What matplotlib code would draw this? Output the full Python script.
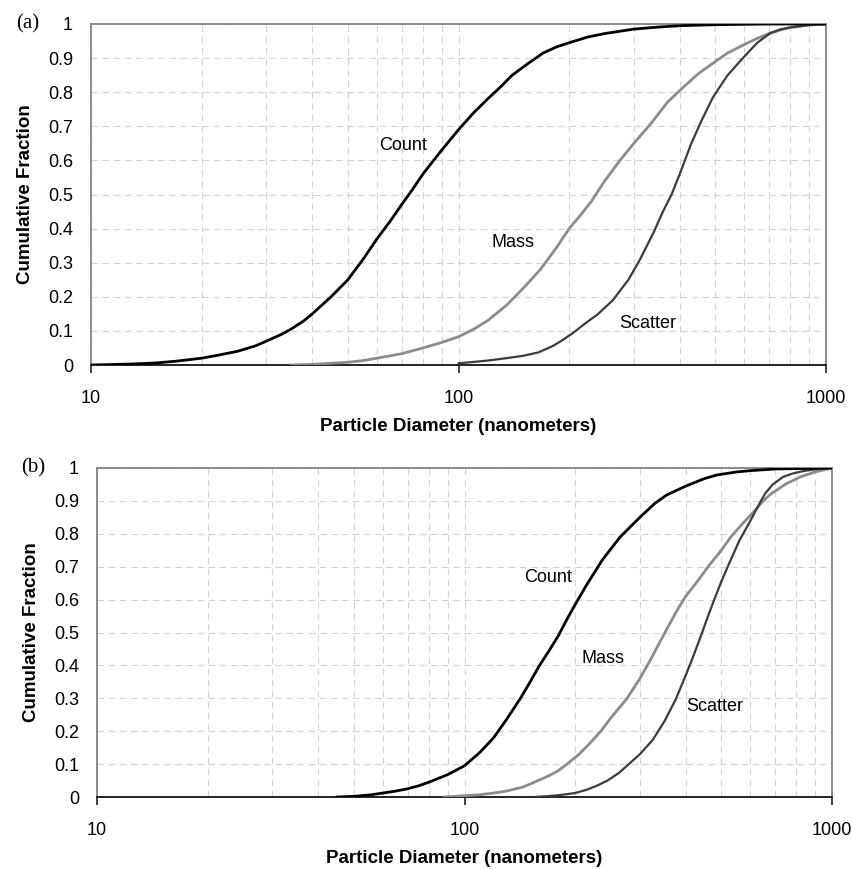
import numpy as np
import matplotlib
matplotlib.use("Agg")
import matplotlib.pyplot as plt
from matplotlib.ticker import FixedLocator, LogLocator, NullFormatter

# --- cumulative size distributions, panel (a) ---
a_count_d = [10, 11, 12, 13, 15, 17, 20, 22, 25, 28, 30, 33, 35, 38, 40, 45, 50,
             55, 60, 65, 70, 75, 80, 90, 100, 110, 120, 130, 140, 155, 170, 185,
             200, 225, 250, 300, 350, 400, 500, 700, 1000]
a_count_f = [0.0, 0.001, 0.002, 0.003, 0.006, 0.011, 0.02, 0.028, 0.04, 0.056,
             0.07, 0.09, 0.105, 0.13, 0.15, 0.2, 0.25, 0.31, 0.37, 0.42, 0.47,
             0.515, 0.56, 0.63, 0.69, 0.74, 0.78, 0.815, 0.85, 0.885, 0.915, 0.933,
             0.945, 0.962, 0.972, 0.985, 0.991, 0.995, 0.998, 1.0, 1.0]

a_mass_d = [35, 40, 45, 50, 55, 60, 70, 80, 90, 100, 110, 120, 135, 150, 167, 185,
            200, 215, 230, 250, 275, 300, 335, 370, 400, 450, 500, 540, 600, 650,
            700, 750, 800, 900, 1000]
a_mass_f = [0.0, 0.002, 0.005, 0.008, 0.013, 0.02, 0.033, 0.05, 0.066, 0.083,
            0.105, 0.13, 0.175, 0.225, 0.28, 0.345, 0.40, 0.44, 0.48, 0.54, 0.60,
            0.65, 0.71, 0.77, 0.805, 0.855, 0.89, 0.915, 0.94, 0.958, 0.972, 0.982,
            0.99, 0.997, 1.0]

a_scat_d = [100, 110, 120, 135, 150, 165, 180, 190, 205, 220, 240, 263, 290, 312,
            340, 360, 380, 400, 430, 460, 493, 540, 594, 650, 705, 750, 800, 900,
            1000]
a_scat_f = [0.005, 0.009, 0.013, 0.02, 0.027, 0.037, 0.055, 0.07, 0.094, 0.12,
            0.15, 0.19, 0.25, 0.31, 0.39, 0.45, 0.50, 0.56, 0.65, 0.72, 0.786,
            0.85, 0.90, 0.945, 0.973, 0.984, 0.99, 0.997, 1.0]

# --- panel (b) ---
b_count_d = [45, 50, 55, 60, 65, 70, 75, 80, 90, 100, 110, 120, 130, 142, 150, 160,
             170, 180, 190, 200, 215, 237, 265, 300, 330, 355, 400, 450, 487, 550,
             600, 700, 1000]
b_count_f = [0.0, 0.002, 0.006, 0.012, 0.018, 0.025, 0.034, 0.045, 0.068, 0.095,
             0.135, 0.18, 0.235, 0.30, 0.345, 0.40, 0.445, 0.49, 0.54, 0.585,
             0.645, 0.72, 0.79, 0.85, 0.893, 0.918, 0.945, 0.968, 0.979, 0.988,
             0.992, 0.997, 1.0]

b_mass_d = [88, 100, 110, 120, 130, 144, 155, 170, 180, 190, 205, 220, 235, 250,
            277, 300, 320, 336, 355, 380, 400, 430, 460, 500, 530, 570, 610, 650,
            680, 750, 820, 900, 1000]
b_mass_f = [0.0, 0.004, 0.007, 0.012, 0.018, 0.03, 0.045, 0.065, 0.08, 0.10, 0.13,
            0.165, 0.2, 0.24, 0.30, 0.36, 0.415, 0.46, 0.51, 0.57, 0.61, 0.655,
            0.70, 0.75, 0.79, 0.83, 0.865, 0.90, 0.92, 0.952, 0.973, 0.988, 1.0]

b_scat_d = [155, 170, 182, 200, 215, 230, 245, 263, 280, 300, 325, 350, 375, 400,
            420, 440, 460, 480, 500, 525, 560, 600, 637, 660, 690, 736, 780, 830,
            900, 1000]
b_scat_f = [0.0, 0.003, 0.006, 0.012, 0.022, 0.035, 0.05, 0.073, 0.1, 0.13, 0.173,
            0.23, 0.295, 0.37, 0.43, 0.49, 0.55, 0.605, 0.655, 0.71, 0.78, 0.84,
            0.895, 0.925, 0.95, 0.973, 0.983, 0.99, 0.996, 1.0]

y_ticks = [0, 0.1, 0.2, 0.3, 0.4, 0.5, 0.6, 0.7, 0.8, 0.9, 1.0]
y_tick_labels = ["0", "0.1", "0.2", "0.3", "0.4", "0.5", "0.6", "0.7", "0.8", "0.9", "1"]
x_ticks = [10, 100, 1000]
x_tick_labels = ["10", "100", "1000"]

COUNT_COLOR = "#000000"
MASS_COLOR = "#8c8c8c"
SCAT_COLOR = "#3c3c3c"
FRAME_COLOR = "#8a8a8a"
GRID_COLOR = "#d4d4d4"

plt.rcParams["font.family"] = ["Liberation Sans", "DejaVu Sans"]

fig = plt.figure(figsize=(8.52, 8.69), dpi=100)


def style_axes(ax):
    ax.set_xscale("log")
    ax.set_xlim(10, 1000)
    ax.set_ylim(0, 1)
    ax.xaxis.set_major_locator(FixedLocator(x_ticks))
    ax.set_xticklabels(x_tick_labels)
    ax.xaxis.set_minor_locator(LogLocator(base=10, subs=np.arange(2, 10)))
    ax.xaxis.set_minor_formatter(NullFormatter())
    ax.set_yticks(y_ticks)
    ax.set_yticklabels(y_tick_labels)
    ax.grid(True, which="both", axis="x", color=GRID_COLOR, linestyle=(0, (6, 4)), linewidth=0.8)
    ax.grid(True, which="major", axis="y", color=GRID_COLOR, linestyle=(0, (6, 4)), linewidth=0.8)
    ax.set_axisbelow(True)
    for side in ("top", "right", "left"):
        ax.spines[side].set_color(FRAME_COLOR)
        ax.spines[side].set_linewidth(1.4)
    ax.spines["bottom"].set_color("#222222")
    ax.spines["bottom"].set_linewidth(1.4)
    ax.tick_params(axis="x", which="major", direction="out", length=6, width=1.2,
                   color="#222222", labelsize=13, pad=12)
    ax.tick_params(axis="x", which="minor", length=0)
    ax.tick_params(axis="y", length=0, labelsize=13, pad=13)
    ax.set_xlabel("Particle Diameter (nanometers)", fontsize=13.5, fontweight="bold", labelpad=8)
    ax.set_ylabel("Cumulative Fraction", fontsize=13.5, fontweight="bold", labelpad=10)


def draw_panel(ax, count, mass, scat, label_pos, tag):
    ax.plot(mass[0], mass[1], color=MASS_COLOR, linewidth=2.0, zorder=3,
            solid_joinstyle="round")
    ax.plot(scat[0], scat[1], color=SCAT_COLOR, linewidth=1.6, zorder=4,
            solid_joinstyle="round")
    ax.plot(count[0], count[1], color=COUNT_COLOR, linewidth=2.0, zorder=5,
            solid_joinstyle="round")
    for name, (x, y) in label_pos.items():
        ax.text(x, y, name, fontsize=13, ha="center", va="center", zorder=6)
    style_axes(ax)
    ax.text(-0.07, 1.0, tag, transform=ax.transAxes, fontsize=15,
            family=["Liberation Serif", "DejaVu Serif"], ha="right", va="center")


ax_a = fig.add_axes([91 / 852, 1 - 365 / 869, 735 / 852, 341 / 869])
draw_panel(ax_a,
           (a_count_d, a_count_f), (a_mass_d, a_mass_f), (a_scat_d, a_scat_f),
           {"Count": (70.6, 0.645), "Mass": (141, 0.358), "Scatter": (328, 0.123)},
           "(a)")

ax_b = fig.add_axes([97 / 852, 1 - 797 / 869, 735 / 852, 329 / 869])
draw_panel(ax_b,
           (b_count_d, b_count_f), (b_mass_d, b_mass_f), (b_scat_d, b_scat_f),
           {"Count": (169, 0.666), "Mass": (238, 0.42), "Scatter": (481, 0.274)},
           "(b)")

fig.savefig("out.png", dpi=100)
